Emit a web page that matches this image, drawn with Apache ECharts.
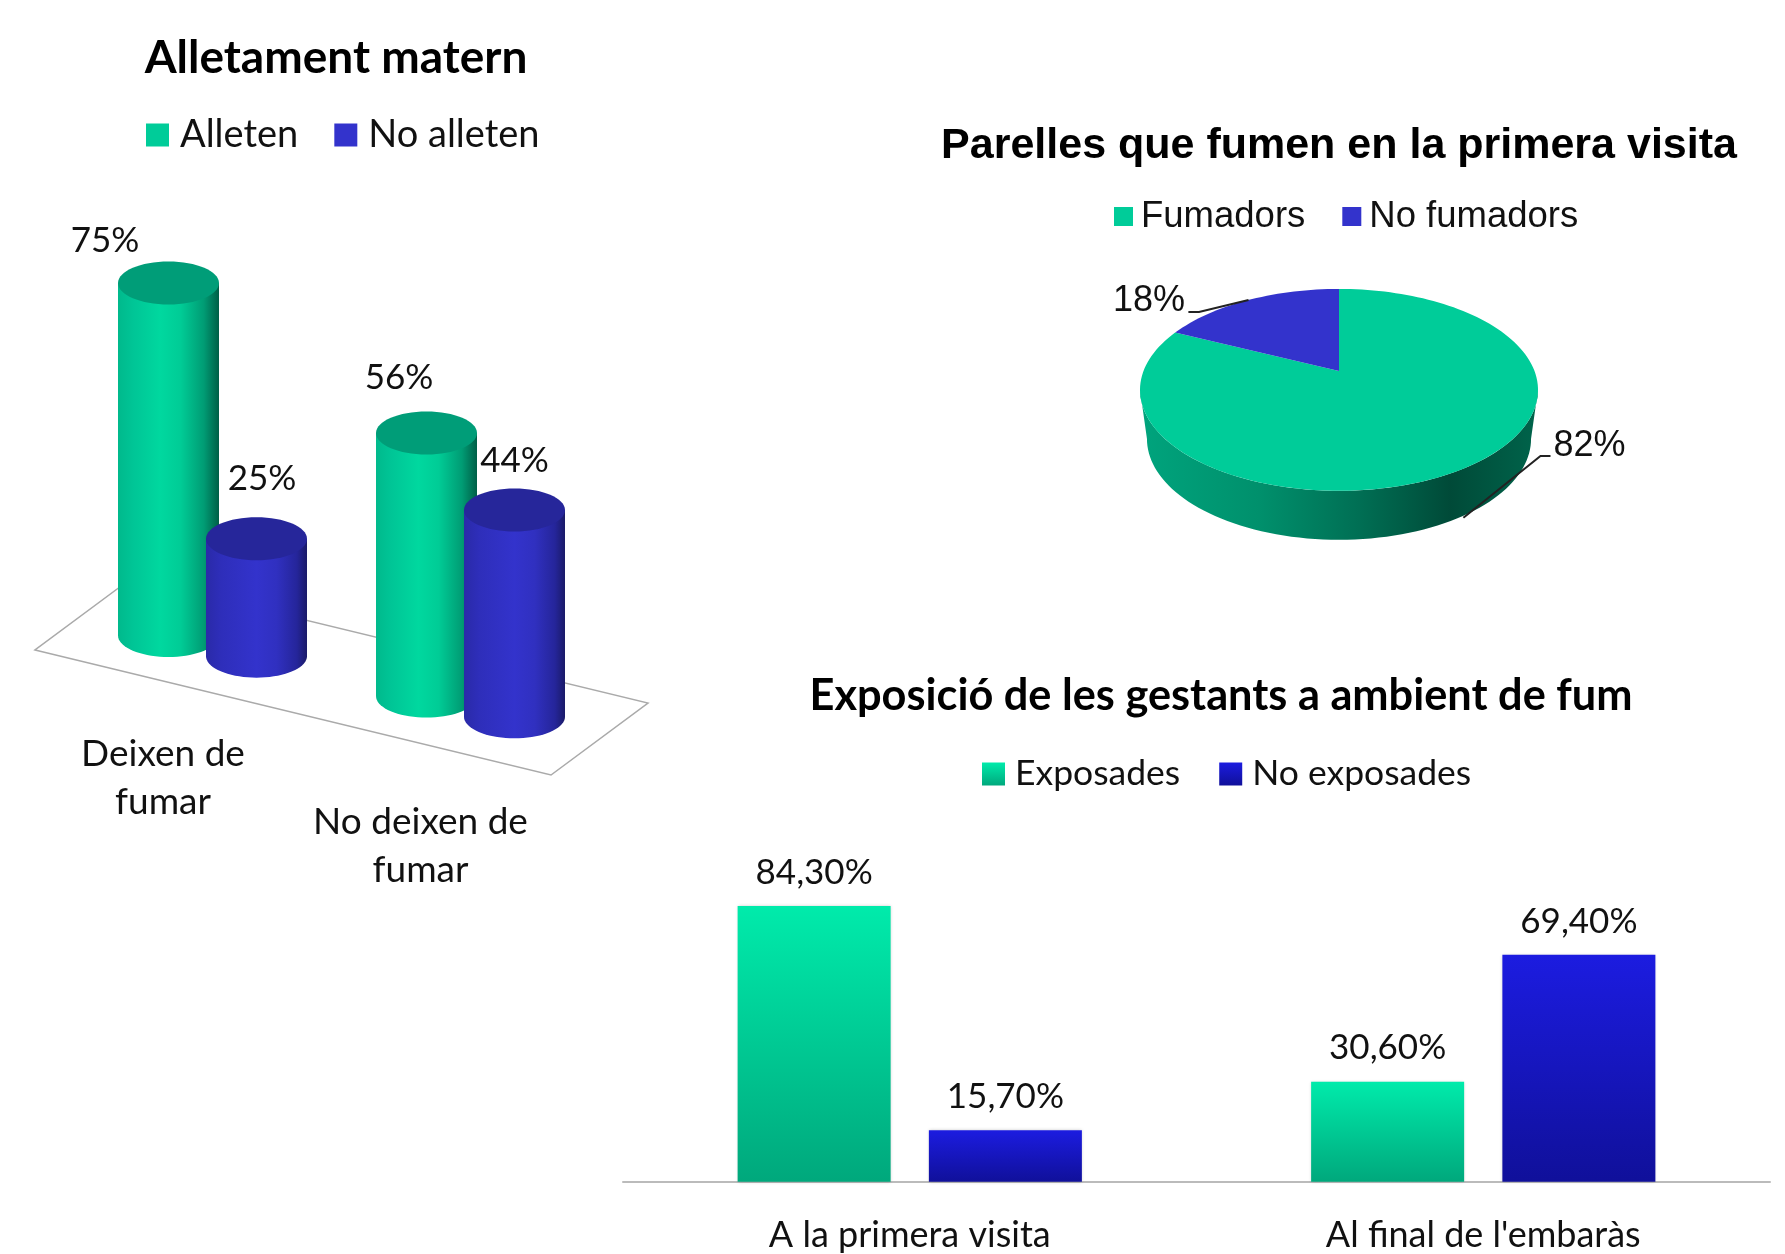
<!DOCTYPE html>
<html>
<head>
<meta charset="utf-8">
<title>Tabac i embaràs</title>
<style>
	html,body{margin:0;padding:0;background:#fff;}
	#chart{width:1785px;height:1254px;}
</style>
<script src="https://cdn.jsdelivr.net/npm/echarts@6/dist/echarts.min.js"></script>
</head>
<body>
<div id="chart"></div>
<script>
/*****  data  *****/
var milkCategories = ['Deixen de\nfumar', 'No deixen de\nfumar'];
var milkYes = [75, 56];
var milkNo = [25, 44];

var smokers = [82];
var nonSmokers = [18];

var smokeCategories = ['A la primera visita', "Al final de l'embaràs"];
var exposed = [84.3, 30.6];
var notExposed = [15.7, 69.4];

/*****  look  *****/
var green = '#00cc99', blue = '#3333cc', ink = '#111';
var calibri = 'Lato', arial = '"Liberation Sans"';

/*****  3D cylinders  *****/
var cylRx = 50.5, cylRy = 21.5;
var cylShift = 44;			// half distance between the two cylinders of a group
var floorSlope = 0.235;		// the floor goes down to the right
var cylLabelOffsets = [[[-63.5, -21], [-27.5, -34]], [[5.5, -38], [0, -28]]];
var catLabelOffsets = [[-49.5, 132], [-50, 140]];

function grad(stops){
	return new echarts.graphic.LinearGradient(0, 0, 1, 0, stops.map(function(s){
		return {offset: s[0], color: s[1]};
	}));
}
var greenSide = [[0, '#00b98c'], [0.15, '#00c596'], [0.42, '#00d89f'], [0.62, '#00cc96'], [0.85, '#009c74'], [1, '#005f47']];
var blueSide = [[0, '#2a2aa8'], [0.15, '#2e2eba'], [0.5, '#3333cc'], [0.7, '#3030c0'], [0.9, '#25259a'], [1, '#1a1a68']];

function floorY(api, x, y){
	return y + floorSlope * (x - api.coord([0, 0])[0]);
}

function cylinder(side, sideStops, capColor, labels, offsets){
	return function(params, api){
		var i = api.value(0);
		var x = api.coord([i, 0])[0] + side * cylShift;
		var yBase = floorY(api, x, api.coord([i, 0])[1]);
		var yTop = floorY(api, x, api.coord([i, api.value(1)])[1]);
		var pts = [[x - cylRx, yTop]];
		for(var a = 180; a >= 0; a -= 5){
			var r = a * Math.PI / 180;
			pts.push([x + cylRx * Math.cos(r), yBase + cylRy * Math.sin(r)]);
		}
		pts.push([x + cylRx, yTop]);
		var off = offsets[i];
		return {
			type: 'group',
			children: [{
				type: 'polygon',
				shape: {points: pts},
				style: {fill: grad(sideStops)}
			}, {
				type: 'ellipse',
				shape: {cx: x, cy: yTop, rx: cylRx, ry: cylRy},
				style: {fill: capColor}
			}, {
				type: 'text',
				x: x + off[0],
				y: yTop - cylRy + off[1],
				style: {text: labels[i] + '%', fill: ink, font: '35px ' + calibri, align: 'center', verticalAlign: 'middle'}
			}]
		};
	};
}

function catLabel(params, api){
	var i = api.value(0);
	var off = catLabelOffsets[i];
	var c = api.coord([i, 0]);
	return {
		type: 'text',
		x: c[0] + off[0],
		y: floorY(api, c[0], c[1]) + off[1],
		style: {text: milkCategories[i], fill: ink, font: '37px ' + calibri, lineHeight: 48, align: 'center', verticalAlign: 'middle'}
	};
}

/*****  3D pie  *****/
var pieCx = 1339, pieCy = 371, pieK = 195.5, pieKy = 97.4, pieC = 0.187, pieDepth = 49;
var pieApex = [pieCx, pieCy];

function project(deg, k, dy){
	var t = deg * Math.PI / 180;
	var d = 1 + pieC * Math.cos(t);
	return [pieCx + k * Math.sin(t) / d, pieCy + (dy || 0) - pieKy * Math.cos(t) / d];
}
function arc(from, to, k, dy){
	var pts = [];
	var n = Math.ceil(Math.abs(to - from) / 2);
	for(var j = 0; j <= n; j++){
		pts.push(project(from + (to - from) * j / n, k, dy));
	}
	return pts;
}
function leader(anchor, elbow, end){
	return {
		type: 'polyline',
		shape: {points: [anchor, elbow, end]},
		style: {stroke: '#222', lineWidth: 2, fill: null}
	};
}

function smokerSlice(params, api){
	var end = 360 * api.value(0) / (smokers[0] + nonSmokers[0]);
	var mid = end / 2;
	var edge = Math.acos(-pieC) * 180 / Math.PI;
	var side = arc(edge, 360 - edge, pieK).concat(arc(360 - edge, edge, pieK * 0.965, pieDepth));
	var anchor = project(mid, pieK, pieDepth);
	return {
		type: 'group',
		children: [{
			type: 'polygon',
			shape: {points: side},
			style: {fill: grad([[0, '#00a47d'], [0.3, '#00906c'], [0.55, '#006f54'], [0.78, '#004a38'], [1, '#00644b']])}
		}, {
			type: 'polygon',
			shape: {points: [pieApex].concat(arc(0, end, pieK))},
			style: {fill: green}
		}, leader(anchor, [1540.5, 456], [1550.5, 456]), {
			type: 'text',
			x: 1589.5,
			y: 446,
			style: {text: api.value(0) + '%', fill: ink, font: '36px ' + arial, align: 'center', verticalAlign: 'middle'}
		}]
	};
}
function nonSmokerSlice(params, api){
	var start = 360 * smokers[0] / (smokers[0] + api.value(0));
	var mid = (start + 360) / 2;
	return {
		type: 'group',
		children: [{
			type: 'polygon',
			shape: {points: [pieApex].concat(arc(start, 360, pieK))},
			style: {fill: blue}
		}, leader(project(mid, pieK), [1199, 312], [1188.4, 312]), {
			type: 'text',
			x: 1149,
			y: 301,
			style: {text: api.value(0) + '%', fill: ink, font: '36px ' + arial, align: 'center', verticalAlign: 'middle'}
		}]
	};
}

/*****  flat bars  *****/
function barFill(top, bottom){
	return new echarts.graphic.LinearGradient(0, 0, 0, 1, [{offset: 0, color: top}, {offset: 1, color: bottom}]);
}
function comma(p){
	return p.value.toFixed(2).replace('.', ',') + '%';
}
function barLabel(){
	return {show: true, position: 'top', distance: 16, formatter: comma, color: ink, fontSize: 35, fontFamily: calibri};
}
function pairs(list){
	return list.map(function(v, i){ return [i, v]; });
}

var option = {
	backgroundColor: '#fff',
	animation: false,
	title: [
		{text: 'Alletament matern', left: 336, top: 58, padding: 0, textAlign: 'center', textVerticalAlign: 'middle', textStyle: {fontFamily: calibri, fontSize: 46, fontWeight: 'bold', color: '#000'}},
		{text: 'Parelles que fumen en la primera visita', left: 1339, top: 146.5, padding: 0, textAlign: 'center', textVerticalAlign: 'middle', textStyle: {fontFamily: arial, fontSize: 43, fontWeight: 'bold', color: '#000'}},
		{text: 'Exposició de les gestants a ambient de fum', left: 1221, top: 696, padding: 0, textAlign: 'center', textVerticalAlign: 'middle', textStyle: {fontFamily: calibri, fontSize: 43.3, fontWeight: 'bold', color: '#000'}}
	],
	legend: [
		{data: ['Alleten', 'No alleten'], left: 146, top: 116, padding: 0, itemWidth: 23, itemHeight: 23, itemGap: 36, icon: 'rect', textStyle: {fontFamily: calibri, fontSize: 38, color: ink, padding: [0, 0, 0, 6]}},
		{data: ['Fumadors', 'No fumadors'], left: 1114, top: 198, padding: 0, itemWidth: 19, itemHeight: 19, itemGap: 37, icon: 'rect', textStyle: {fontFamily: arial, fontSize: 36.5, color: ink, padding: [0, 0, 0, 3]}},
		{data: ['Exposades', 'No exposades'], left: 982, top: 756, padding: 0, itemWidth: 23, itemHeight: 23, itemGap: 39, icon: 'rect', textStyle: {fontFamily: calibri, fontSize: 35.5, color: ink, padding: [0, 0, 0, 5]}}
	],
	grid: [
		{left: 83.5, width: 516, top: 175.8, height: 470},
		{left: 623, width: 1147, top: 854.7, height: 327}
	],
	xAxis: [{
		gridIndex: 0,
		type: 'category',
		data: milkCategories,
		show: false
	}, {
		gridIndex: 1,
		type: 'category',
		data: smokeCategories,
		axisLine: {lineStyle: {color: '#bbb', width: 2}},
		axisTick: {show: false},
		axisLabel: {color: ink, fontSize: 36, fontFamily: calibri, margin: 36}
	}],
	yAxis: [
		{gridIndex: 0, type: 'value', min: 0, max: 100, show: false},
		{gridIndex: 1, type: 'value', min: 0, max: 100, show: false}
	],
	graphic: [{
		type: 'polygon',
		z: 0,
		shape: {points: [[35, 650], [551, 775], [648, 703], [132, 578]]},
		style: {fill: '#fff', stroke: '#aaa', lineWidth: 1.5}
	}],
	series: [{
		name: 'Alleten',
		type: 'custom',
		xAxisIndex: 0,
		yAxisIndex: 0,
		itemStyle: {color: green},
		renderItem: cylinder(-1, greenSide, '#009d78', milkYes, cylLabelOffsets[0]),
		data: pairs(milkYes)
	}, {
		name: 'No alleten',
		type: 'custom',
		xAxisIndex: 0,
		yAxisIndex: 0,
		itemStyle: {color: blue},
		renderItem: cylinder(1, blueSide, '#26269a', milkNo, cylLabelOffsets[1]),
		data: pairs(milkNo)
	}, {
		name: 'milkLabels',
		type: 'custom',
		xAxisIndex: 0,
		yAxisIndex: 0,
		renderItem: catLabel,
		data: pairs([0, 0])
	}, {
		name: 'Fumadors',
		type: 'custom',
		coordinateSystem: 'none',
		itemStyle: {color: green},
		renderItem: smokerSlice,
		data: smokers
	}, {
		name: 'No fumadors',
		type: 'custom',
		coordinateSystem: 'none',
		itemStyle: {color: blue},
		renderItem: nonSmokerSlice,
		data: nonSmokers
	}, {
		name: 'Exposades',
		type: 'bar',
		xAxisIndex: 1,
		yAxisIndex: 1,
		barWidth: 153,
		barGap: '25%',
		itemStyle: {color: barFill('#00ebab', '#00a87c'), shadowColor: 'rgba(0,0,0,0.2)', shadowBlur: 3},
		label: barLabel(),
		data: exposed
	}, {
		name: 'No exposades',
		type: 'bar',
		xAxisIndex: 1,
		yAxisIndex: 1,
		barWidth: 153,
		barGap: '25%',
		itemStyle: {color: barFill('#1c1ce0', '#10109a'), shadowColor: 'rgba(0,0,0,0.2)', shadowBlur: 3},
		label: barLabel(),
		data: notExposed
	}]
};

var chart = echarts.init(document.getElementById('chart'));
chart.setOption(option);
</script>
</body>
</html>
